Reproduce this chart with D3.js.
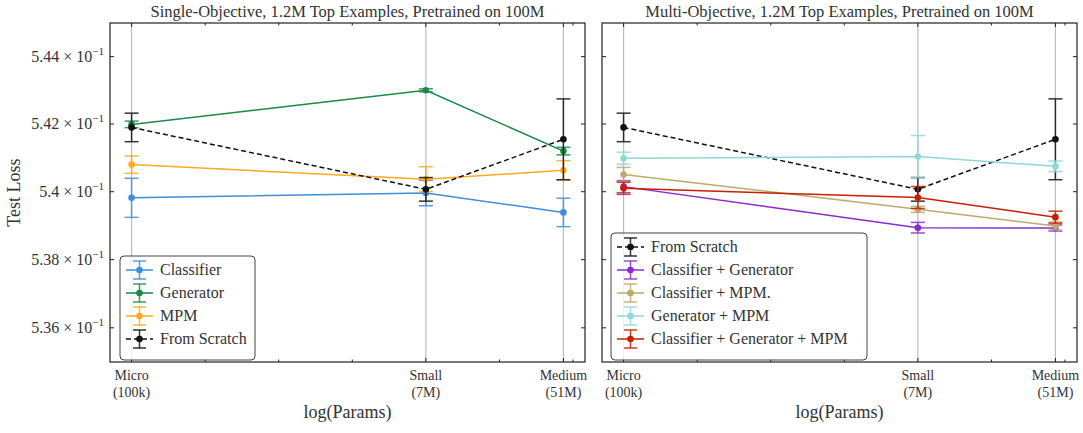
<!DOCTYPE html>
<html>
<head>
<meta charset="utf-8">
<script src="https://cdn.jsdelivr.net/npm/d3@7"></script>
<style>
  body { margin: 0; background: #fff; }
  text { font-family: "Liberation Serif", "DejaVu Serif", serif; fill: #333; }
</style>
</head>
<body>
<div id="chart-area"></div>
<script>
// model sizes on the x axis
const sizes = ["Micro", "Small", "Medium"];
const sizeParams = [1e5, 7e6, 51e6];
const sizeNotes = ["(100k)", "(7M)", "(51M)"];

const yTicks = [0.536, 0.538, 0.540, 0.542, 0.544];
const yTickLabels = ["5.36", "5.38", "5.4", "5.42", "5.44"];

// test loss, mean and error per size
const scratch = [0.54190, 0.54007, 0.54155];
const scratchErr = [0.000422, 0.000348, 0.001196];

const classifier = [0.53982, 0.53996, 0.53939];
const classifierErr = [0.000576, 0.000375, 0.000419];
const generator = [0.54199, 0.54300, 0.54120];
const generatorErr = [0.000097, 0.000044, 0.000112];
const mpm = [0.54080, 0.54037, 0.54063];
const mpmErr = [0.000257, 0.000369, 0.000286];

const clsGen = [0.54015, 0.53894, 0.53893];
const clsGenErr = [0.000177, 0.000156, 0.000089];
const clsMpm = [0.54051, 0.53948, 0.53899];
const clsMpmErr = [0.000207, 0.000089, 0.000118];
const genMpm = [0.54099, 0.54104, 0.54075];
const genMpmErr = [0.000177, 0.000620, 0.000156];
const allThree = [0.54010, 0.53983, 0.53925];
const allThreeErr = [0.000177, 0.000325, 0.000177];

const W = 1083, H = 433;
const plotTop = 23, plotBottom = 362;
const panelW = 475;

const svg = d3.select("#chart-area")
  .append("svg")
  .attr("width", W)
  .attr("height", H);

const lo = Math.log10(sizeParams[0]);
const hi = Math.log10(sizeParams[2]);
const pad = (hi - lo) * 0.05;

const y = d3.scaleLog()
  .domain([0.535, 0.545])
  .range([plotBottom, plotTop]);

// minor ticks: a quarter of the first major step
const step = (Math.log10(sizeParams[1]) - lo) / 4;
const minorTicks = d3.range(-2, 12)
  .map(k => lo + k * step)
  .filter(v => v > lo - pad && v < hi + pad)
  .filter(v => !sizeParams.some(p => Math.abs(Math.log10(p) - v) < 1e-6))
  .map(v => Math.pow(10, v));

function drawPanel(left, title, series, legendBox) {
  const x = d3.scaleLog()
    .domain([Math.pow(10, lo - pad), Math.pow(10, hi + pad)])
    .range([left, left + panelW]);

  const g = svg.append("g");

  // vertical grid
  g.selectAll(".grid")
    .data(sizeParams)
    .enter().append("line")
    .attr("x1", d => x(d)).attr("x2", d => x(d))
    .attr("y1", plotTop).attr("y2", plotBottom)
    .attr("stroke", "#bdbdbd")
    .attr("stroke-width", 1.2);

  const line = d3.line()
    .x((d, i) => x(sizeParams[i]))
    .y(d => y(d));

  series.forEach(s => {
    const sg = g.append("g");
    sg.append("path")
      .datum(s.values)
      .attr("d", line)
      .attr("fill", "none")
      .attr("stroke", s.color)
      .attr("stroke-width", 1.5)
      .attr("stroke-dasharray", s.dash ? "5,3" : null);

    const bars = sg.selectAll(".err")
      .data(s.values)
      .enter().append("g")
      .attr("opacity", 0.85);
    bars.append("line")
      .attr("x1", (d, i) => x(sizeParams[i]))
      .attr("x2", (d, i) => x(sizeParams[i]))
      .attr("y1", (d, i) => y(d - s.err[i]))
      .attr("y2", (d, i) => y(d + s.err[i]))
      .attr("stroke", s.color)
      .attr("stroke-width", 1.5);
    [-1, 1].forEach(sign => {
      bars.append("line")
        .attr("x1", (d, i) => x(sizeParams[i]) - 7)
        .attr("x2", (d, i) => x(sizeParams[i]) + 7)
        .attr("y1", (d, i) => y(d + sign * s.err[i]))
        .attr("y2", (d, i) => y(d + sign * s.err[i]))
        .attr("stroke", s.color)
        .attr("stroke-width", 1.5);
    });

    sg.selectAll(".pt")
      .data(s.values)
      .enter().append("circle")
      .attr("cx", (d, i) => x(sizeParams[i]))
      .attr("cy", d => y(d))
      .attr("r", 3.3)
      .attr("fill", s.color);
  });

  // frame
  g.append("rect")
    .attr("x", left).attr("y", plotTop)
    .attr("width", panelW).attr("height", plotBottom - plotTop)
    .attr("fill", "none")
    .attr("stroke", "#222")
    .attr("stroke-width", 1.2);

  // x ticks, inward, bottom and top
  sizeParams.forEach(p => {
    [[plotBottom, -4], [plotTop, 4]].forEach(([yy, len]) => {
      g.append("line")
        .attr("x1", x(p)).attr("x2", x(p))
        .attr("y1", yy).attr("y2", yy + len)
        .attr("stroke", "#222");
    });
  });
  minorTicks.forEach(p => {
    [[plotBottom, -2.5], [plotTop, 2.5]].forEach(([yy, len]) => {
      g.append("line")
        .attr("x1", x(p)).attr("x2", x(p))
        .attr("y1", yy).attr("y2", yy + len)
        .attr("stroke", "#222");
    });
  });

  // y ticks on both sides
  yTicks.forEach(v => {
    [[left, 4], [left + panelW, -4]].forEach(([xx, len]) => {
      g.append("line")
        .attr("x1", xx).attr("x2", xx + len)
        .attr("y1", y(v)).attr("y2", y(v))
        .attr("stroke", "#222");
    });
  });

  // x tick labels
  sizes.forEach((s, i) => {
    g.append("text")
      .attr("x", x(sizeParams[i]))
      .attr("y", 380)
      .attr("text-anchor", "middle")
      .attr("font-size", 14)
      .text(s);
    g.append("text")
      .attr("x", x(sizeParams[i]))
      .attr("y", 397)
      .attr("text-anchor", "middle")
      .attr("font-size", 14)
      .text(sizeNotes[i]);
  });

  g.append("text")
    .attr("x", left + panelW / 2)
    .attr("y", 418)
    .attr("text-anchor", "middle")
    .attr("font-size", 18)
    .text("log(Params)");

  g.append("text")
    .attr("x", left + panelW / 2)
    .attr("y", 17)
    .attr("text-anchor", "middle")
    .attr("font-size", 16.5)
    .text(title);

  // legend
  const order = legendBox.order.map(k => series.find(s => s.name === k));
  const lg = g.append("g")
    .attr("transform", `translate(${left + legendBox.dx}, ${legendBox.y})`);
  lg.append("rect")
    .attr("x", 0).attr("y", 0)
    .attr("width", legendBox.w)
    .attr("height", 12 + order.length * 23)
    .attr("rx", 4)
    .attr("fill", "#fff")
    .attr("fill-opacity", 0.8)
    .attr("stroke", "#444")
    .attr("stroke-width", 1);
  order.forEach((s, i) => {
    const cy = 14 + i * 23;
    const row = lg.append("g").attr("transform", `translate(0, ${cy})`);
    row.append("line")
      .attr("x1", 6).attr("x2", 33).attr("y1", 0).attr("y2", 0)
      .attr("stroke", s.color).attr("stroke-width", 1.5)
      .attr("stroke-dasharray", s.dash ? "5,3" : null);
    row.append("line")
      .attr("x1", 19.5).attr("x2", 19.5).attr("y1", -9).attr("y2", 9)
      .attr("stroke", s.color).attr("stroke-width", 1.5).attr("opacity", 0.85);
    [-9, 9].forEach(dy => {
      row.append("line")
        .attr("x1", 13).attr("x2", 26).attr("y1", dy).attr("y2", dy)
        .attr("stroke", s.color).attr("stroke-width", 1.5).attr("opacity", 0.85);
    });
    row.append("circle")
      .attr("cx", 19.5).attr("cy", 0).attr("r", 3.3)
      .attr("fill", s.color);
    row.append("text")
      .attr("x", 40).attr("y", 5)
      .attr("font-size", 16)
      .text(s.name);
  });
}

const black = "#111";

drawPanel(110, "Single-Objective, 1.2M Top Examples, Pretrained on 100M", [
  { name: "Classifier", values: classifier, err: classifierErr, color: "#3d8fdb" },
  { name: "Generator", values: generator, err: generatorErr, color: "#1a8a48" },
  { name: "MPM", values: mpm, err: mpmErr, color: "#ffaa1c" },
  { name: "From Scratch", values: scratch, err: scratchErr, color: black, dash: true }
], { dx: 10, y: 256, w: 135, order: ["Classifier", "Generator", "MPM", "From Scratch"] });

drawPanel(602, "Multi-Objective, 1.2M Top Examples, Pretrained on 100M", [
  { name: "From Scratch", values: scratch, err: scratchErr, color: black, dash: true },
  { name: "Classifier + Generator", values: clsGen, err: clsGenErr, color: "#8a2ccc" },
  { name: "Classifier + MPM.", values: clsMpm, err: clsMpmErr, color: "#bcab6c" },
  { name: "Generator + MPM", values: genMpm, err: genMpmErr, color: "#8fd8d8" },
  { name: "Classifier + Generator + MPM", values: allThree, err: allThreeErr, color: "#c81e00" }
], { dx: 9, y: 233, w: 256, order: ["From Scratch", "Classifier + Generator", "Classifier + MPM.", "Generator + MPM", "Classifier + Generator + MPM"] });

// y tick labels, left panel only
yTicks.forEach((v, i) => {
  const t = svg.append("text")
    .attr("x", 104)
    .attr("y", y(v) + 5)
    .attr("text-anchor", "end")
    .attr("font-size", 16);
  t.append("tspan").text(yTickLabels[i] + " \u00d7 10");
  t.append("tspan").attr("dy", -7).attr("font-size", 11).text("\u22121");
});

svg.append("text")
  .attr("transform", `translate(20, ${(plotTop + plotBottom) / 2}) rotate(-90)`)
  .attr("text-anchor", "middle")
  .attr("font-size", 18)
  .text("Test Loss");
</script>
</body>
</html>
